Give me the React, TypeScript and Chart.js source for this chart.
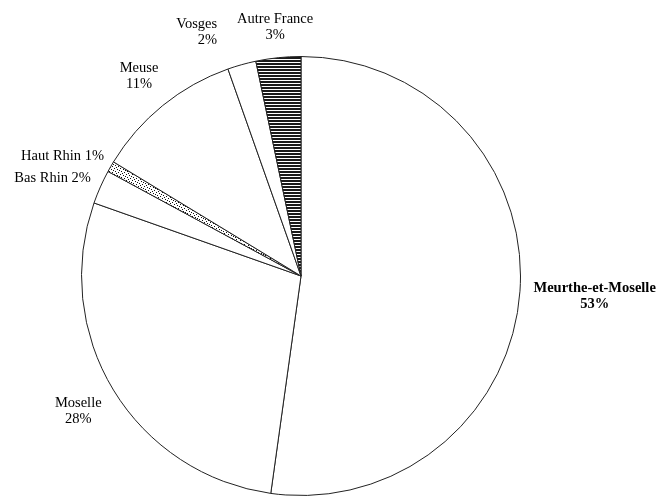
import React, { useEffect, useRef } from "react";
import { Chart, registerables } from "chart.js";

Chart.register(...registerables);

const categories = ["Meurthe-et-Moselle", "Moselle", "Bas Rhin", "Haut Rhin", "Meuse", "Vosges", "Autre France"];
const shares = [52.2, 28.2, 2.5, 0.8, 10.9, 2.1, 3.3];
const percentLabels = ["53%", "28%", "2%", "1%", "11%", "2%", "3%"];
const oneLineLabels = ["Bas Rhin", "Haut Rhin"];
const boldLabels = ["Meurthe-et-Moselle"];

function makeHatch(): CanvasPattern | string {
  const c = document.createElement("canvas");
  c.width = 4;
  c.height = 3;
  const g = c.getContext("2d");
  if (!g) return "#333";
  g.fillStyle = "#ffffff";
  g.fillRect(0, 0, 4, 3);
  g.fillStyle = "#1a1a1a";
  g.fillRect(0, 0, 4, 2);
  return g.createPattern(c, "repeat") || "#333";
}

function makeStipple(): CanvasPattern | string {
  const c = document.createElement("canvas");
  c.width = 6;
  c.height = 6;
  const g = c.getContext("2d");
  if (!g) return "#999";
  g.fillStyle = "#ffffff";
  g.fillRect(0, 0, 6, 6);
  g.fillStyle = "#111";
  const dots = [[0, 0], [3, 1], [1, 3], [4, 4], [5, 2], [2, 5]];
  dots.forEach(([x, y]) => g.fillRect(x, y, 1, 1));
  return g.createPattern(c, "repeat") || "#999";
}

const FONT_FAMILY = '"Liberation Serif", "Times New Roman", serif';
const FONT_SIZE = 14.5;
const LINE_H = 16;
const GAP = 13;
const COLLIDE_GAP = 20;

const labelPlugin = {
  id: "sliceLabels",
  afterDatasetsDraw(chart: any) {
    const ctx: CanvasRenderingContext2D = chart.ctx;
    const meta = chart.getDatasetMeta(0);
    const placed: { l: number; r: number; t: number; b: number }[] = [];
    ctx.save();
    ctx.fillStyle = "#000";
    ctx.textBaseline = "middle";
    for (let i = meta.data.length - 1; i >= 0; i--) {
      const arc = meta.data[i];
      const p = arc.getProps(["x", "y", "startAngle", "endAngle", "outerRadius"], true);
      const mid = (p.startAngle + p.endAngle) / 2;
      const dx = Math.cos(mid);
      const dy = Math.sin(mid);
      const name = categories[i];
      const single = oneLineLabels.includes(name);
      const lines = single ? [name + " " + percentLabels[i]] : [name, percentLabels[i]];
      const bold = boldLabels.includes(name);
      ctx.font = (bold ? "bold " : "") + FONT_SIZE + "px " + FONT_FAMILY;
      const w = Math.max(...lines.map((s) => ctx.measureText(s).width));
      const h = lines.length * LINE_H;
      const target = p.outerRadius + GAP;
      let cx: number;
      let cy: number;
      if (single) {
        const px = p.x + (target + 1) * dx;
        const py = p.y + (target + 1) * dy;
        cx = px + dx * (w / 2);
        cy = py + dy * (h / 2);
      } else {
        const nearest = (t: number) => {
          const bx = p.x + t * dx;
          const by = p.y + t * dy;
          const nx = Math.min(Math.max(p.x, bx - w / 2), bx + w / 2);
          const ny = Math.min(Math.max(p.y, by - h / 2), by + h / 2);
          return Math.hypot(nx - p.x, ny - p.y);
        };
        let lo = 0;
        let hi = target + 400;
        for (let k = 0; k < 40; k++) {
          const m = (lo + hi) / 2;
          if (nearest(m) < target) lo = m;
          else hi = m;
        }
        cx = p.x + hi * dx;
        cy = p.y + hi * dy;
      }
      let align: CanvasTextAlign = "center";
      let box = { l: cx - w / 2, r: cx + w / 2, t: cy - h / 2, b: cy + h / 2 };
      for (const o of placed) {
        const overlap = box.l < o.r && box.r > o.l && box.t < o.b && box.b > o.t;
        if (overlap) {
          if (dx < 0) {
            cx = o.l - COLLIDE_GAP - w / 2;
            align = "right";
          } else {
            cx = o.r + COLLIDE_GAP + w / 2;
            align = "left";
          }
          box = { l: cx - w / 2, r: cx + w / 2, t: cy - h / 2, b: cy + h / 2 };
        }
      }
      placed.push(box);
      ctx.textAlign = align;
      const tx = align === "center" ? cx : align === "right" ? box.r : box.l;
      lines.forEach((s, k) => {
        ctx.fillText(s, tx, cy + (k - (lines.length - 1) / 2) * LINE_H);
      });
    }
    ctx.restore();
  },
};

export default function App() {
  const ref = useRef<HTMLCanvasElement | null>(null);
  useEffect(() => {
    if (!ref.current) return;
    const hatch = makeHatch();
    const stipple = makeStipple();
    const fills = categories.map((c) =>
      c === "Autre France" ? hatch : c === "Haut Rhin" ? stipple : "#ffffff"
    );
    const chart = new Chart(ref.current, {
      type: "pie",
      data: {
        labels: categories,
        datasets: [
          {
            data: shares,
            backgroundColor: fills as any,
            borderColor: "#222",
            borderWidth: 1,
          },
        ],
      },
      options: {
        responsive: false,
        animation: false,
        layout: { padding: { left: 81, top: 56, right: 144, bottom: 4 } },
        plugins: {
          legend: { display: false },
          tooltip: { enabled: false },
        },
      },
      plugins: [labelPlugin],
    });
    return () => chart.destroy();
  }, []);
  return (
    <div style={{ position: "fixed", left: 0, top: 0, width: 665, height: 500, background: "#fff" }}>
      <canvas ref={ref} width={665} height={500} style={{ width: 665, height: 500 }} />
    </div>
  );
}
